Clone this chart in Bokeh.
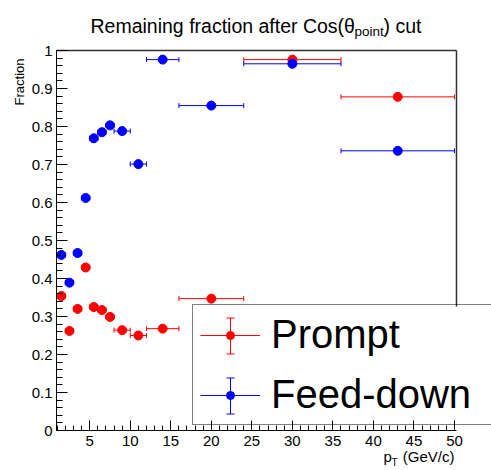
import numpy as np
from bokeh.plotting import figure
from bokeh.models import (ColumnDataSource, Range1d, Legend, LegendItem, Label,
                          BasicTicker, FixedTicker, CustomJSTickFormatter, LinearAxis,
                          Whisker, TeeHead)
from bokeh.embed import file_html
from bokeh.resources import INLINE

# ---- data ----
pt = [1.5, 2.5, 3.5, 4.5, 5.5, 6.5, 7.5, 9, 11, 14, 20, 30, 43]
pt_lo = [1, 2, 3, 4, 5, 6, 7, 8, 10, 12, 16, 24, 36]
pt_hi = [2, 3, 4, 5, 6, 7, 8, 10, 12, 16, 24, 36, 50]
prompt = [0.354, 0.262, 0.320, 0.429, 0.325, 0.317, 0.299, 0.264, 0.250, 0.268, 0.347, 0.976, 0.878]
feeddown = [0.462, 0.389, 0.467, 0.612, 0.769, 0.785, 0.803, 0.788, 0.701, 0.976, 0.855, 0.965, 0.736]
series_names = ["Prompt", "Feed-down"]
series_colors = ["#ff0000", "#0000ff"]
x_axis_lim = (0.9, 50.25)
y_axis_lim = (0.0, 1.0)

FONT = "Liberation Sans"
W, H = 491, 470
# pixel box of the drawn axes inside the canvas
BOX_L, BOX_R, BOX_T, BOX_B = 56, 456, 50, 430

xs = (x_axis_lim[1] - x_axis_lim[0]) / (BOX_R - BOX_L)
ys = (y_axis_lim[1] - y_axis_lim[0]) / (BOX_B - BOX_T)
x0_canvas = x_axis_lim[0] - BOX_L * xs
y0_canvas = y_axis_lim[0] - (H - BOX_B) * ys
x_range = Range1d(x0_canvas, x_axis_lim[1] + (W - BOX_R) * xs)
y_range = Range1d(y0_canvas, y_axis_lim[1] + BOX_T * ys)

# legend geometry (canvas pixels)
LEG_X, LEG_BOTTOM = 192, 425
LEG_PAD, LEG_SPACING, LEG_GW = 7, 15, 60
ITEM_H = 45
LEG_TOP = LEG_BOTTOM - (2 * ITEM_H + LEG_SPACING + 2 * LEG_PAD)

p = figure(width=W, height=H, title=None, x_range=x_range, y_range=y_range,
           output_backend="svg", toolbar_location=None, min_border=0)
p.grid.visible = False
p.outline_line_color = None
p.background_fill_color = "white"
p.border_fill_color = "white"

p.xaxis.ticker = BasicTicker(desired_num_ticks=10, num_minor_ticks=5)
p.yaxis.ticker = BasicTicker(desired_num_ticks=10, num_minor_ticks=5)
p.yaxis.formatter = CustomJSTickFormatter(code="return String(Math.round(tick*10)/10);")
p.xaxis.fixed_location = y_axis_lim[0]
p.yaxis.fixed_location = x_axis_lim[0]
p.xaxis.bounds = x_axis_lim
p.yaxis.bounds = y_axis_lim
for ax, tin, mtin in ((p.xaxis, 10, 5), (p.yaxis, 11, 6)):
    ax.major_tick_in = tin
    ax.major_tick_out = 0
    ax.minor_tick_in = mtin
    ax.minor_tick_out = 0
    ax.axis_line_color = "black"
    ax.major_tick_line_color = "black"
    ax.minor_tick_line_color = "black"
    ax.major_label_text_font = FONT
    ax.major_label_text_font_size = "15px"
    ax.major_label_text_color = "black"
p.xaxis.major_label_standoff = 5
p.yaxis.major_label_standoff = 4

# top and right frame lines (right one stops where the legend box starts)
top_ax = LinearAxis(fixed_location=y_axis_lim[1], bounds=x_axis_lim,
                    ticker=FixedTicker(ticks=[]), axis_line_color="#333333",
                    axis_line_width=1.5, major_label_text_font_size="0px")
right_ax = LinearAxis(fixed_location=x_axis_lim[1],
                      bounds=(y0_canvas + (H - LEG_TOP) * ys, y_axis_lim[1]),
                      ticker=FixedTicker(ticks=[]), axis_line_color="#333333",
                      axis_line_width=1.5, major_label_text_font_size="0px")
p.add_layout(top_ax, "above")
p.add_layout(right_ax, "right")

legend_items = []
for name, vals, col in zip(series_names, [prompt, feeddown], series_colors):
    src = ColumnDataSource(dict(x=pt, lo=pt_lo, hi=pt_hi, y=vals))
    seg = p.segment(x0="lo", x1="hi", y0="y", y1="y", source=src,
                    line_color=col, line_width=1)
    p.scatter(x="lo", y="y", source=src, marker="dash", angle=np.pi / 2,
              size=5, line_color=col, line_width=1)
    p.scatter(x="hi", y="y", source=src, marker="dash", angle=np.pi / 2,
              size=5, line_color=col, line_width=1)
    dots = p.scatter(x="x", y="y", source=src, marker="circle", size=9,
                     fill_color=col, line_color=col)
    legend_items.append(LegendItem(label=name, renderers=[seg, dots]))

leg = Legend(items=legend_items, location=(LEG_X, H - LEG_BOTTOM),
             border_line_color="black", border_line_width=1.5,
             background_fill_alpha=0.0,
             padding=LEG_PAD, spacing=LEG_SPACING, margin=0,
             glyph_width=LEG_GW, glyph_height=20, label_standoff=11,
             label_width=260, label_height=20,
             label_text_font=FONT, label_text_font_size="40px",
             label_text_color="black")
p.add_layout(leg)

# vertical error-bar symbols inside the legend entries (pixel -> range units)
gx = LEG_X + 1 + LEG_PAD + LEG_GW / 2
for i, col in enumerate(series_colors):
    n_below = len(series_colors) - 1 - i
    cy = (H - LEG_BOTTOM) + LEG_PAD + n_below * (ITEM_H + LEG_SPACING) + ITEM_H / 2
    wsrc = ColumnDataSource(dict(b=[x0_canvas + gx * xs],
                                 lo=[y0_canvas + (cy - 18) * ys],
                                 up=[y0_canvas + (cy + 18) * ys]))
    p.add_layout(Whisker(source=wsrc, base="b", lower="lo", upper="up",
                         dimension="height", line_color=col, line_width=1,
                         level="overlay",
                         upper_head=TeeHead(size=8, line_color=col, line_width=1),
                         lower_head=TeeHead(size=8, line_color=col, line_width=1)))

# ---- title and axis titles (canvas pixel positions, y measured from bottom) ----
def lab(text, x, y, size, **kw):
    p.add_layout(Label(text=text, x=x, y=H - y, x_units="screen", y_units="screen",
                       text_font=FONT, text_font_size=size, text_color="black",
                       text_baseline="alphabetic", **kw))

lab("Remaining fraction after Cos(\u03b8", 90, 25, "19.5px")
lab("point", 354, 30.5, "13.5px")
lab(") cut", 383, 25, "19.5px")

lab("p", 383, 456, "15px")
lab("T", 391, 462, "10px")
lab("(GeV/c)", 454, 456, "15px", text_align="right")

lab("Fraction", 19, 58, "13px", angle=np.pi / 2, text_align="right")

open("out.html", "w").write(file_html(p, INLINE))
